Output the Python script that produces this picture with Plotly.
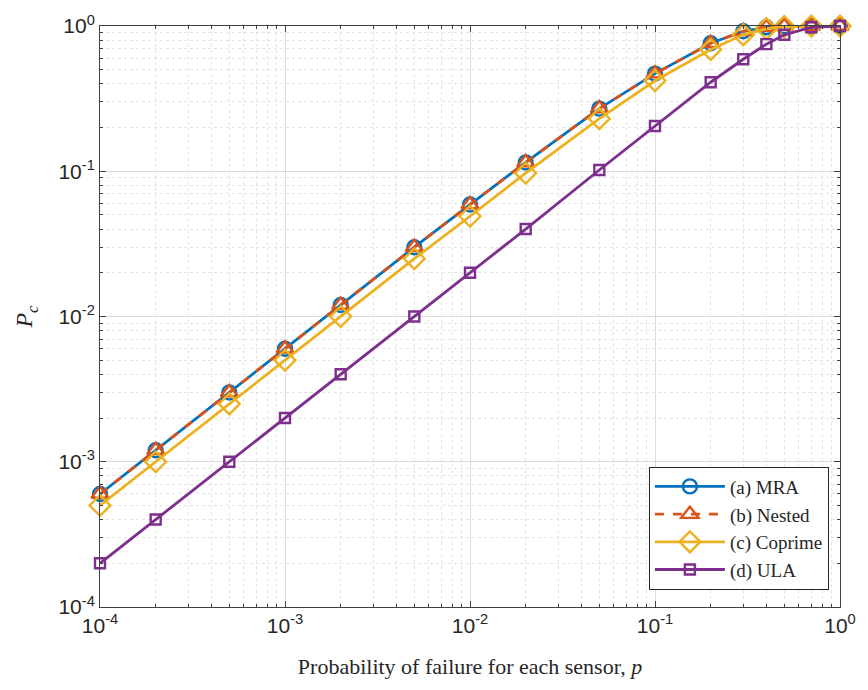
import plotly.graph_objects as go

p = [1e-4, 2e-4, 5e-4, 1e-3, 2e-3, 5e-3, 1e-2, 2e-2, 5e-2, 0.1, 0.2, 0.3, 0.4, 0.5, 0.7, 1.0]
pc_mra = [6e-4, 1.2e-3, 3e-3, 6e-3, 1.2e-2, 3e-2, 5.9e-2, 0.115, 0.27, 0.47, 0.76, 0.92, 0.98, 0.995, 1.0, 1.0]
pc_nested = [6e-4, 1.2e-3, 3e-3, 6e-3, 1.2e-2, 3e-2, 5.9e-2, 0.115, 0.27, 0.47, 0.76, 0.92, 0.98, 0.995, 1.0, 1.0]
pc_coprime = [5e-4, 1e-3, 2.5e-3, 5e-3, 1e-2, 2.5e-2, 4.9e-2, 0.097, 0.23, 0.42, 0.69, 0.87, 0.96, 0.99, 1.0, 1.0]
pc_ula = [2e-4, 4e-4, 1e-3, 2e-3, 4e-3, 1e-2, 2e-2, 4e-2, 0.102, 0.205, 0.41, 0.59, 0.75, 0.87, 0.98, 1.0]

tick_vals = [1e-4, 1e-3, 1e-2, 1e-1, 1]
tick_text = ["10<sup>-4</sup>", "10<sup>-3</sup>", "10<sup>-2</sup>", "10<sup>-1</sup>", "10<sup>0</sup>"]
minor_vals = [m * 10.0 ** k for k in range(-4, 0) for m in range(2, 10)]

series = [
    ("(a) MRA", pc_mra, "#0072BD", "solid", "circle-open", 14),
    ("(b) Nested", pc_nested, "#D95319", "dash", "triangle-up-open", 15),
    ("(c) Coprime", pc_coprime, "#EDB120", "solid", "diamond-open", 16),
    ("(d) ULA", pc_ula, "#7E2F8E", "solid", "square-open", 10),
]

fig = go.Figure()
for name, y, col, dash, sym, sz in series:
    fig.add_trace(go.Scatter(
        x=p, y=y, name=name, mode="lines+markers", cliponaxis=False,
        line=dict(color=col, width=2.8, dash=dash),
        marker=dict(symbol=sym, size=sz, color=col, line=dict(width=2.4, color=col)),
    ))

axis_common = dict(
    type="log",
    showline=True, linecolor="#404040", linewidth=1, mirror="allticks",
    ticks="inside", ticklen=6, tickcolor="#404040",
    showgrid=True, gridcolor="#dcdcdc", gridwidth=1,
    tickmode="array", tickvals=tick_vals, ticktext=tick_text,
    tickfont=dict(family="Liberation Sans, Arial, sans-serif", size=21, color="#262626"),
    minor=dict(tickmode="array", tickvals=minor_vals, ticks="inside", ticklen=3,
               tickcolor="#404040", showgrid=True,
               gridcolor="#e4e4e4", griddash="dot", gridwidth=1),
    zeroline=False,
)

fig.update_xaxes(**axis_common, range=[-4, 0],
                 title=dict(text="Probability of failure for each sensor, <i>p</i>",
                            font=dict(family="Liberation Serif, DejaVu Serif, serif", size=22, color="#262626"),
                            standoff=22))
fig.update_yaxes(**axis_common, range=[-4, 0],
                 title=dict(text="<i>P</i><sub><i>c</i></sub>",
                            font=dict(family="Liberation Serif, DejaVu Serif, serif", size=24, color="#262626"),
                            standoff=18))

fig.update_layout(
    width=868, height=690,
    margin=dict(l=100, r=20, t=18, b=83),
    plot_bgcolor="white", paper_bgcolor="white",
    showlegend=True,
    legend=dict(x=0.985, y=0.03, xanchor="right", yanchor="bottom",
                bgcolor="white", bordercolor="#262626", borderwidth=1,
                font=dict(family="Liberation Serif, DejaVu Serif, serif", size=19, color="#262626"),
                tracegroupgap=0, itemwidth=70),
)

fig.write_html("out.html")
